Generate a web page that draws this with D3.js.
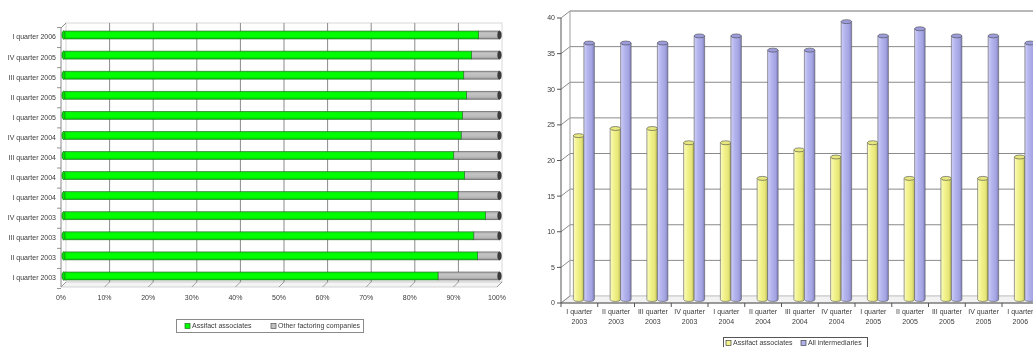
<!DOCTYPE html>
<html>
<head>
<meta charset="utf-8">
<script src="https://cdn.jsdelivr.net/npm/d3@7"></script>
<style>
  html, body { margin: 0; padding: 0; background: #fff; }
  svg { display: block; font-family: "Liberation Sans", Arial, sans-serif; will-change: transform; }
  text { fill: #3a3a3a; }
</style>
</head>
<body>
<svg id="chart" width="1033" height="347"></svg>
<script>
// Quarters shown on both panels
const categories = [
  "I quarter 2003", "II quarter 2003", "III quarter 2003", "IV quarter 2003",
  "I quarter 2004", "II quarter 2004", "III quarter 2004", "IV quarter 2004",
  "I quarter 2005", "II quarter 2005", "III quarter 2005", "IV quarter 2005",
  "I quarter 2006"
];
// Market share (%) – left panel
const assifactShare = [85.9, 95.0, 94.1, 96.8, 90.5, 92.0, 89.5, 91.2, 91.5, 92.4, 91.8, 93.6, 95.2];
const otherShare    = [14.1, 5.0, 5.9, 3.2, 9.5, 8.0, 10.5, 8.8, 8.5, 7.6, 8.2, 6.4, 4.8];
const percentTicks  = [0, 10, 20, 30, 40, 50, 60, 70, 80, 90, 100];
// Number of operators – right panel
const assifactCount     = [23, 24, 24, 22, 22, 17, 21, 20, 22, 17, 17, 17, 20];
const allIntermediaries = [36, 36, 36, 37, 37, 35, 35, 39, 37, 38, 37, 37, 36];
const countTicks = [0, 5, 10, 15, 20, 25, 30, 35, 40];

const svg = d3.select("#chart");
const defs = svg.append("defs");

function gradient(id, stops, vertical) {
  const g = defs.append("linearGradient").attr("id", id)
    .attr("x1", 0).attr("y1", 0)
    .attr("x2", vertical ? 0 : 1).attr("y2", vertical ? 1 : 0);
  stops.forEach(([o, c]) => g.append("stop").attr("offset", o).attr("stop-color", c));
}
gradient("gGreen", [[0, "#10e010"], [0.3, "#00ff00"], [0.7, "#00ff00"], [1, "#00c000"]], true);
gradient("gGray",  [[0, "#a8a8a8"], [0.3, "#c4c4c4"], [0.7, "#bababa"], [1, "#8c8c8c"]], true);
gradient("gYellow", [[0, "#fbfbc0"], [0.35, "#f3f38e"], [0.75, "#e6e678"], [1, "#b8b858"]], false);
gradient("gBlue",   [[0, "#d0d0fa"], [0.35, "#b4b4ee"], [0.75, "#a4a4e2"], [1, "#7e7ebe"]], false);

/* ---------------- Left panel: 100% stacked horizontal bars ---------------- */
const L = { dx: 5, dy: -5 };
const xFront = d3.scaleLinear().domain([0, 100]).range([61, 497]);
const yFrontTop = 28, yFrontBot = 287;
const left = svg.append("g");

// back wall
left.append("rect")
  .attr("x", xFront(0) + L.dx).attr("y", yFrontTop + L.dy)
  .attr("width", xFront(100) - xFront(0)).attr("height", yFrontBot - yFrontTop)
  .attr("fill", "#fff").attr("stroke", "#d8d8d8").attr("stroke-width", 1);
// floor
left.append("path")
  .attr("d", `M${xFront(0)},${yFrontBot}L${xFront(100)},${yFrontBot}L${xFront(100) + L.dx},${yFrontBot + L.dy}L${xFront(0) + L.dx},${yFrontBot + L.dy}Z`)
  .attr("fill", "#f4f4f4").attr("stroke", "#c8c8c8").attr("stroke-width", 0.8);
// vertical gridlines on back wall + diagonal lines on floor
left.selectAll("line.vgrid").data(percentTicks.slice(1, -1)).join("line")
  .attr("x1", d => xFront(d) + L.dx).attr("x2", d => xFront(d) + L.dx)
  .attr("y1", yFrontTop + L.dy).attr("y2", yFrontBot + L.dy)
  .attr("stroke", "#8a8a8a").attr("stroke-width", 1);
left.selectAll("line.fgrid").data(percentTicks).join("line")
  .attr("x1", d => xFront(d)).attr("x2", d => xFront(d) + L.dx)
  .attr("y1", yFrontBot).attr("y2", yFrontBot + L.dy)
  .attr("stroke", "#8a8a8a").attr("stroke-width", 0.8);
// left wall edges
left.append("path")
  .attr("d", `M${xFront(0)},${yFrontBot}L${xFront(0)},${yFrontTop}L${xFront(0) + L.dx},${yFrontTop + L.dy}`)
  .attr("fill", "none").attr("stroke", "#8a8a8a").attr("stroke-width", 1);

// category bands (mid depth for the bars)
const yBand = d3.scaleBand().domain(categories.slice().reverse()).range([24.96, 286.04]);
const barH = 8;
const xBar = v => xFront(v) + L.dx / 2;
const midDy = L.dy / 2;

// y axis ticks and labels
left.selectAll("line.ytick").data(d3.range(14)).join("line")
  .attr("x1", xFront(0) - 4).attr("x2", xFront(0))
  .attr("y1", i => yBand.range()[0] + i * yBand.step() - midDy)
  .attr("y2", i => yBand.range()[0] + i * yBand.step() - midDy)
  .attr("stroke", "#777").attr("stroke-width", 0.8);
left.selectAll("text.ylab").data(categories).join("text")
  .attr("x", 56).attr("y", d => yBand(d) + yBand.bandwidth() / 2 + 2)
  .attr("dy", "0.35em").attr("text-anchor", "end").attr("font-size", 7)
  .text(d => d);
// x tick labels
left.selectAll("text.xlab").data(percentTicks).join("text")
  .attr("x", d => xFront(d)).attr("y", 300)
  .attr("text-anchor", "middle").attr("font-size", 7)
  .text(d => d + "%");

// bars
const barG = left.selectAll("g.bar").data(categories).join("g");
barG.each(function (c, i) {
  const g = d3.select(this);
  const cy = yBand(c) + yBand.bandwidth() / 2 + midDy + 2.5;
  const y0 = cy - barH / 2;
  g.append("rect").attr("x", xBar(assifactShare[i])).attr("y", y0)
    .attr("width", xBar(assifactShare[i] + otherShare[i]) - xBar(assifactShare[i])).attr("height", barH)
    .attr("fill", "url(#gGray)").attr("stroke", "#555").attr("stroke-width", 0.6);
  g.append("rect").attr("x", xBar(0)).attr("y", y0)
    .attr("width", xBar(assifactShare[i]) - xBar(0)).attr("height", barH)
    .attr("fill", "url(#gGreen)").attr("stroke", "#2a6a2a").attr("stroke-width", 0.6);
  g.append("ellipse").attr("cx", xBar(0)).attr("cy", cy).attr("rx", 1.6).attr("ry", barH / 2)
    .attr("fill", "#00e000").attr("stroke", "#2a6a2a").attr("stroke-width", 0.6);
  g.append("ellipse").attr("cx", xBar(assifactShare[i] + otherShare[i])).attr("cy", cy).attr("rx", 1.8).attr("ry", barH / 2)
    .attr("fill", "#3c3c3c").attr("stroke", "#333").attr("stroke-width", 0.6);
});

// legend
const legL = left.append("g");
legL.append("rect").attr("x", 176.5).attr("y", 319.5).attr("width", 187).attr("height", 13)
  .attr("fill", "#fff").attr("stroke", "#8a8a8a").attr("stroke-width", 1);
[["Assifact associates", "#00ff00", "#2a6a2a", 185], ["Other factoring companies", "#c0c0c0", "#555", 271]]
  .forEach(([t, f, s, x]) => {
    legL.append("rect").attr("x", x).attr("y", 323.5).attr("width", 5).attr("height", 5)
      .attr("fill", f).attr("stroke", s).attr("stroke-width", 0.7);
    legL.append("text").attr("x", x + 7).attr("y", 326).attr("dy", "0.35em").attr("font-size", 7).text(t);
  });

/* ---------------- Right panel: 3D clustered columns ---------------- */
const R = { dx: 9, dy: -7 };
const yR = d3.scaleLinear().domain([0, 40]).range([303, 18]);
const axisX = 561;
const xR = d3.scaleBand().domain(categories).range([axisX, axisX + 13 * 36.75]);
const rightEdge = 1040;
const right = svg.append("g");

// back wall
right.append("rect").attr("x", axisX + R.dx).attr("y", yR(40) + R.dy)
  .attr("width", rightEdge - axisX - R.dx).attr("height", yR(0) - yR(40))
  .attr("fill", "#fff").attr("stroke", "#d0d0d0").attr("stroke-width", 1);
// floor
right.append("path")
  .attr("d", `M${axisX},${yR(0)}L${rightEdge},${yR(0)}L${rightEdge},${yR(0) + R.dy}L${axisX + R.dx},${yR(0) + R.dy}Z`)
  .attr("fill", "#f2f2f2").attr("stroke", "#bbb").attr("stroke-width", 0.8);
// horizontal gridlines: back wall + left wall
right.selectAll("line.hgrid").data(countTicks.slice(1)).join("line")
  .attr("x1", axisX + R.dx).attr("x2", rightEdge)
  .attr("y1", d => yR(d) + R.dy).attr("y2", d => yR(d) + R.dy)
  .attr("stroke", "#8a8a8a").attr("stroke-width", 1);
right.selectAll("line.wgrid").data(countTicks).join("line")
  .attr("x1", axisX).attr("x2", axisX + R.dx)
  .attr("y1", d => yR(d)).attr("y2", d => yR(d) + R.dy)
  .attr("stroke", "#8a8a8a").attr("stroke-width", 1);
right.append("line").attr("x1", axisX + R.dx).attr("x2", axisX + R.dx)
  .attr("y1", yR(40) + R.dy).attr("y2", yR(0) + R.dy).attr("stroke", "#aaa").attr("stroke-width", 0.8);
// front y axis
right.append("line").attr("x1", axisX).attr("x2", axisX).attr("y1", yR(0)).attr("y2", yR(40))
  .attr("stroke", "#555").attr("stroke-width", 1);
right.selectAll("line.yt").data(countTicks).join("line")
  .attr("x1", axisX - 4).attr("x2", axisX).attr("y1", d => yR(d)).attr("y2", d => yR(d))
  .attr("stroke", "#555").attr("stroke-width", 1);
right.selectAll("text.yl").data(countTicks).join("text")
  .attr("x", axisX - 6).attr("y", d => yR(d)).attr("dy", "0.35em")
  .attr("text-anchor", "end").attr("font-size", 7).text(d => d);
// front x axis
right.append("line").attr("x1", axisX).attr("x2", rightEdge).attr("y1", yR(0)).attr("y2", yR(0))
  .attr("stroke", "#555").attr("stroke-width", 1);
right.selectAll("line.xt").data(d3.range(14)).join("line")
  .attr("x1", i => axisX + i * xR.step()).attr("x2", i => axisX + i * xR.step())
  .attr("y1", yR(0)).attr("y2", yR(0) + 4).attr("stroke", "#555").attr("stroke-width", 1);
const xl = right.selectAll("text.xl").data(categories).join("text")
  .attr("x", d => xR(d) + xR.bandwidth() / 2).attr("y", 314)
  .attr("text-anchor", "middle").attr("font-size", 7);
xl.append("tspan").attr("x", d => xR(d) + xR.bandwidth() / 2).text(d => d.split(" ").slice(0, 2).join(" "));
xl.append("tspan").attr("x", d => xR(d) + xR.bandwidth() / 2).attr("dy", 10).text(d => d.split(" ")[2]);

// cylinders
const colW = 10.5;
function cylinder(g, cx, v, fill, topFill) {
  const yTop = yR(v) + R.dy / 2, yBot = yR(0) + R.dy / 2, rx = colW / 2, ry = 2;
  g.append("path")
    .attr("d", `M${cx - rx},${yTop}L${cx - rx},${yBot}A${rx},${ry} 0 0 0 ${cx + rx},${yBot}L${cx + rx},${yTop}Z`)
    .attr("fill", fill).attr("stroke", "#5a5a5a").attr("stroke-width", 0.6);
  g.append("ellipse").attr("cx", cx).attr("cy", yTop).attr("rx", rx).attr("ry", ry)
    .attr("fill", topFill).attr("stroke", "#4a4a4a").attr("stroke-width", 0.6);
}
categories.forEach((c, i) => {
  const center = xR(c) + xR.bandwidth() / 2 + R.dx / 2;
  const g = right.append("g");
  cylinder(g, center - colW / 2, assifactCount[i], "url(#gYellow)", "#e8e880");
  cylinder(g, center + colW / 2, allIntermediaries[i], "url(#gBlue)", "#9c9cdc");
});

// legend
const legR = right.append("g");
legR.append("rect").attr("x", 723.5).attr("y", 337.5).attr("width", 144).attr("height", 11)
  .attr("fill", "#fff").attr("stroke", "#555").attr("stroke-width", 1);
[["Assifact associates", "#f4f48c", 726], ["All intermediaries", "#b0b0ee", 801]]
  .forEach(([t, f, x]) => {
    legR.append("rect").attr("x", x).attr("y", 340.5).attr("width", 5).attr("height", 5)
      .attr("fill", f).attr("stroke", "#444").attr("stroke-width", 0.7);
    legR.append("text").attr("x", x + 7).attr("y", 343).attr("dy", "0.35em").attr("font-size", 7).text(t);
  });
</script>
</body>
</html>
